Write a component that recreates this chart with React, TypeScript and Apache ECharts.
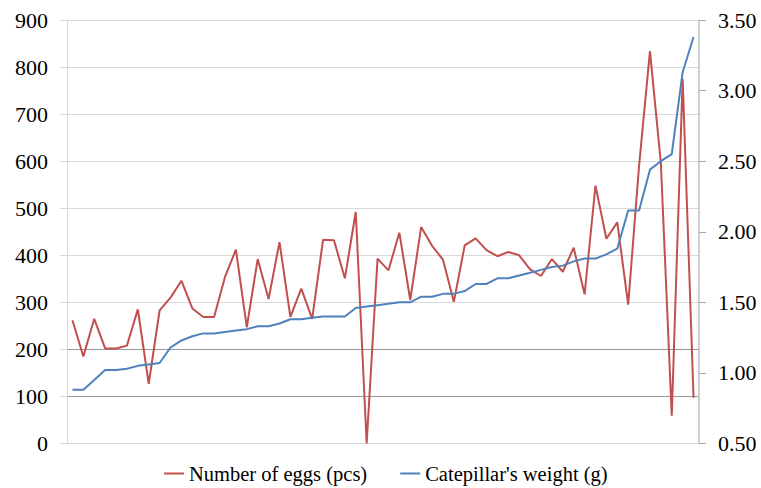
import React, { useEffect, useRef } from "react";
import * as echarts from "echarts";

const categories = [
  "1", "2", "3", "4", "5", "6", "7", "8", "9", "10",
  "11", "12", "13", "14", "15", "16", "17", "18", "19", "20",
  "21", "22", "23", "24", "25", "26", "27", "28", "29", "30",
  "31", "32", "33", "34", "35", "36", "37", "38", "39", "40",
  "41", "42", "43", "44", "45", "46", "47", "48", "49", "50",
  "51", "52", "53", "54", "55", "56", "57", "58",
];

const eggs = [
  262, 185, 265, 202, 202, 208, 285, 127, 283, 310,
  346, 287, 269, 269, 354, 412, 247, 392, 307, 428,
  269, 329, 265, 433, 432, 351, 492, 0, 393, 368,
  448, 305, 460, 420, 391, 301, 421, 436, 411, 398,
  407, 400, 370, 356, 392, 365, 416, 317, 548, 435,
  470, 295, 590, 834, 596, 59, 775, 97,
];

const weight = [
  0.88, 0.88, 0.95, 1.02, 1.02, 1.03, 1.05, 1.06, 1.07, 1.18,
  1.23, 1.26, 1.28, 1.28, 1.29, 1.3, 1.31, 1.33, 1.33, 1.35,
  1.38, 1.38, 1.39, 1.4, 1.4, 1.4, 1.46, 1.47, 1.48, 1.49,
  1.5, 1.5, 1.54, 1.54, 1.56, 1.56, 1.58, 1.63, 1.63, 1.67,
  1.67, 1.69, 1.71, 1.73, 1.75, 1.76, 1.79, 1.81, 1.81, 1.84,
  1.88, 2.15, 2.15, 2.44, 2.5, 2.55, 3.13, 3.38,
];

const seriesNames = ["Number of eggs (pcs)", "Catepillar's weight (g)"];

const FONT = "Liberation Serif";
const LIGHT = "#d9d9d9";
const DARK = "#969696";

export default function App() {
  const ref = useRef<HTMLDivElement>(null);
  useEffect(() => {
    if (!ref.current) return;
    const chart = echarts.init(ref.current, null, { renderer: "svg" });
    chart.setOption({
      animation: false,
      backgroundColor: "#ffffff",
      textStyle: { fontFamily: FONT, color: "#000" },
      grid: { left: 67, right: 62, top: 20, bottom: 44.5, containLabel: false },
      legend: {
        data: seriesNames,
        left: 164,
        top: 463,
        padding: 0,
        icon: "rect",
        itemWidth: 20,
        itemHeight: 2,
        itemGap: 33,
        textStyle: { fontFamily: FONT, fontSize: 20.5, color: "#000" },
      },
      xAxis: {
        type: "category",
        data: categories,
        boundaryGap: true,
        axisLine: { show: true, lineStyle: { color: LIGHT, width: 1 } },
        axisTick: { show: false },
        axisLabel: { show: false },
        splitLine: { show: false },
      },
      yAxis: [
        {
          type: "value",
          min: 0,
          max: 900,
          interval: 100,
          axisLine: { show: true, lineStyle: { color: LIGHT, width: 1 } },
          axisTick: { show: true, inside: false, length: 7, lineStyle: { color: LIGHT } },
          axisLabel: {
            margin: 19,
            fontFamily: FONT,
            fontSize: 22,
            fontWeight: "normal",
            color: "#000",
            formatter: "{value}",
          },
          splitLine: {
            show: true,
            lineStyle: {
              color: [LIGHT, DARK, DARK, LIGHT, LIGHT, LIGHT, LIGHT, LIGHT, LIGHT, LIGHT],
              width: 1,
            },
          },
        },
        {
          type: "value",
          position: "right",
          min: 0.5,
          max: 3.5,
          interval: 0.5,
          axisLine: { show: true, lineStyle: { color: "#bfbfbf", width: 1.5 } },
          axisTick: { show: true, inside: false, length: 7, lineStyle: { color: "#a6a6a6" } },
          axisLabel: {
            margin: 19,
            fontFamily: FONT,
            fontSize: 22,
            fontWeight: "normal",
            color: "#000",
            formatter: (v: number) => v.toFixed(2),
          },
          splitLine: { show: false },
        },
      ],
      series: [
        {
          name: seriesNames[0],
          type: "line",
          data: eggs,
          yAxisIndex: 0,
          showSymbol: false,
          symbol: "none",
          lineStyle: { color: "#C0504D", width: 2 },
          itemStyle: { color: "#C0504D" },
        },
        {
          name: seriesNames[1],
          type: "line",
          data: weight,
          yAxisIndex: 1,
          showSymbol: false,
          symbol: "none",
          lineStyle: { color: "#4F81BD", width: 2 },
          itemStyle: { color: "#4F81BD" },
        },
      ],
    });
    return () => chart.dispose();
  }, []);
  return (
    <div
      ref={ref}
      style={{ position: "fixed", left: 0, top: 0, width: 761, height: 488, fontFamily: FONT }}
    />
  );
}
